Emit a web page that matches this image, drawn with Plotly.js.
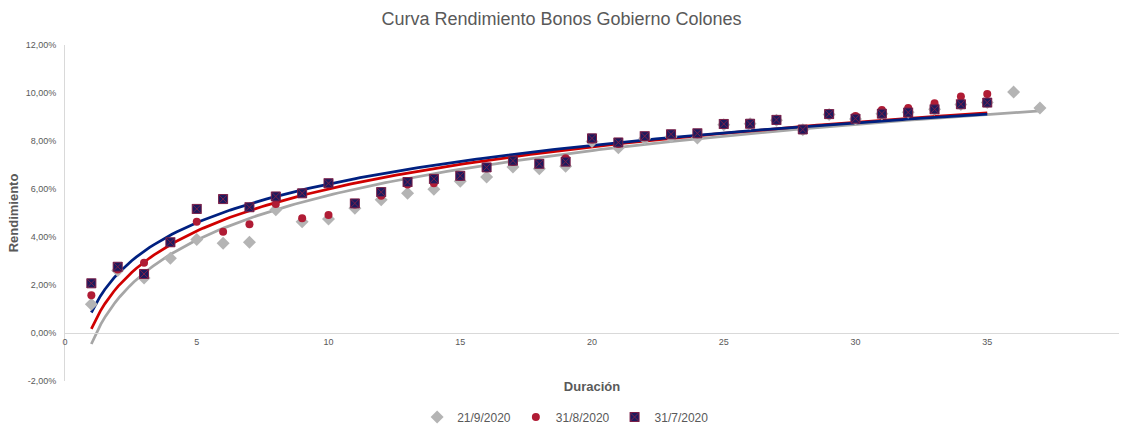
<!DOCTYPE html>
<html>
<head>
<meta charset="utf-8">
<script src="https://cdn.plot.ly/plotly-3.0.1.min.js"></script>
<style>
  html, body { margin: 0; padding: 0; background: #ffffff; }
  #chart { width: 1123px; height: 431px; }
</style>
</head>
<body>
<div id="chart"></div>
<script>
// Duración (años) de cada emisión
const durSep = [1,2,3,4,5,6,7,8,9,10,11,12,13,14,15,16,17,18,19,20,21,22,23,24,25,26,27,28,29,30,31,32,33,34,35,36,37];
const durAgo = [1,2,3,4,5,6,7,8,9,10,11,12,13,14,15,16,17,18,19,20,21,22,23,24,25,26,27,28,29,30,31,32,33,34,35];
const durJul = [1,2,3,4,5,6,7,8,9,10,11,12,13,14,15,16,17,18,19,20,21,22,23,24,25,26,27,28,29,30,31,32,33,34,35];

// Rendimiento (%) por fecha de valoración
const rendSep = [1.20,2.60,2.29,3.11,3.90,3.74,3.78,5.14,4.64,4.75,5.20,5.55,5.82,5.99,6.32,6.50,6.92,6.84,6.95,7.98,
                 7.72,8.10,8.18,8.13,8.68,8.72,8.86,8.47,9.10,8.92,9.14,9.20,9.32,9.52,9.60,10.04,9.37];
const rendAgo = [1.57,2.65,2.93,3.75,4.64,4.22,4.53,5.37,4.78,4.92,5.35,5.72,6.19,6.24,6.50,6.86,7.12,7.05,7.28,8.06,
                 7.88,8.16,8.25,8.28,8.70,8.74,8.86,8.50,9.10,9.04,9.29,9.38,9.57,9.85,9.96];
const rendJul = [2.07,2.76,2.46,3.78,5.17,5.58,5.24,5.69,5.82,6.24,5.40,5.87,6.29,6.42,6.55,6.90,7.18,7.05,7.14,8.11,
                 7.94,8.20,8.28,8.32,8.71,8.72,8.88,8.48,9.12,8.93,9.14,9.19,9.32,9.53,9.60];

const seriesNames = ['21/9/2020', '31/8/2020', '31/7/2020'];
const yTickVals = [-2, 0, 2, 4, 6, 8, 10, 12];
const yTickText = ['-2,00%', '0,00%', '2,00%', '4,00%', '6,00%', '8,00%', '10,00%', '12,00%'];
const xTickVals = [0, 5, 10, 15, 20, 25, 30, 35, 40];

// Ajuste logarítmico por mínimos cuadrados: y = a·ln(x) + b
function logFit(xs, ys) {
  const n = xs.length;
  let sl = 0, sy = 0, sll = 0, sly = 0;
  for (let i = 0; i < n; i++) {
    const l = Math.log(xs[i]);
    sl += l; sy += ys[i]; sll += l * l; sly += l * ys[i];
  }
  const a = (n * sly - sl * sy) / (n * sll - sl * sl);
  const b = (sy - a * sl) / n;
  const lo = Math.min(...xs), hi = Math.max(...xs);
  const fx = [], fy = [];
  const steps = 200;
  for (let k = 0; k <= steps; k++) {
    const x = lo + (hi - lo) * k / steps;
    fx.push(x);
    fy.push(a * Math.log(x) + b);
  }
  return { x: fx, y: fy };
}

const fitSep = logFit(durSep, rendSep);
const fitAgo = logFit(durAgo, rendAgo);
const fitJul = logFit(durJul, rendJul);

const traces = [
  { x: fitSep.x, y: fitSep.y, mode: 'lines', line: { color: '#a6a6a6', width: 2.75 },
    showlegend: false, hoverinfo: 'skip' },
  { x: fitAgo.x, y: fitAgo.y, mode: 'lines', line: { color: '#d00000', width: 2.75 },
    showlegend: false, hoverinfo: 'skip' },
  { x: fitJul.x, y: fitJul.y, mode: 'lines', line: { color: '#002080', width: 2.75 },
    showlegend: false, hoverinfo: 'skip' },
  { x: durSep, y: rendSep, mode: 'markers', name: seriesNames[0],
    marker: { symbol: 'diamond', size: 10, color: '#b4b4b4' } },
  { x: durAgo, y: rendAgo, mode: 'markers', name: seriesNames[1],
    marker: { symbol: 'circle', size: 8, color: '#b01c35' } },
  { x: durJul, y: rendJul, mode: 'markers', name: seriesNames[2],
    marker: { symbol: 'square-x', size: 9, color: '#1c1a5e',
              line: { color: '#7a1f48', width: 1 } } }
];

const tickFont = { family: 'Liberation Sans, Arial, sans-serif', size: 9, color: '#595959' };

const layout = {
  width: 1123,
  height: 431,
  paper_bgcolor: '#ffffff',
  plot_bgcolor: '#ffffff',
  margin: { l: 65, r: 4, t: 45, b: 50 },
  font: { family: 'Liberation Sans, Arial, sans-serif', color: '#595959' },
  title: {
    text: 'Curva Rendimiento Bonos Gobierno Colones',
    font: { family: 'Liberation Sans, Arial, sans-serif', size: 18, color: '#595959' },
    x: 0.5, xanchor: 'center',
    yref: 'container', y: 1 - 19 / 431, yanchor: 'middle'
  },
  xaxis: {
    range: [0, 40],
    tickvals: xTickVals,
    ticktext: xTickVals.map(String),
    showgrid: false,
    zeroline: false,
    showline: true,
    linecolor: '#d9d9d9',
    linewidth: 1,
    ticks: '',
    tickfont: tickFont,
    anchor: 'free',
    position: 2 / 14,
    title: {
      text: '<b>Duración</b>',
      font: { family: 'Liberation Sans, Arial, sans-serif', size: 13, color: '#595959' },
      standoff: 36
    }
  },
  yaxis: {
    range: [-2, 12],
    tickvals: yTickVals,
    ticktext: yTickText,
    showgrid: false,
    zeroline: false,
    showline: true,
    linecolor: '#d9d9d9',
    linewidth: 1,
    ticks: '',
    ticklabelstandoff: 6,
    tickfont: tickFont,
    title: {
      text: '<b>Rendimiento</b>',
      font: { family: 'Liberation Sans, Arial, sans-serif', size: 13, color: '#595959' },
      standoff: 4
    }
  },
  showlegend: true,
  legend: {
    orientation: 'h',
    x: 0.475, xanchor: 'center',
    yref: 'container', y: 14 / 431, yanchor: 'middle',
    font: { family: 'Liberation Sans, Arial, sans-serif', size: 12, color: '#595959' },
    itemwidth: 30,
    tracegroupgap: 0
  }
};

Plotly.newPlot('chart', traces, layout, { displayModeBar: false, staticPlot: true });
</script>
</body>
</html>
